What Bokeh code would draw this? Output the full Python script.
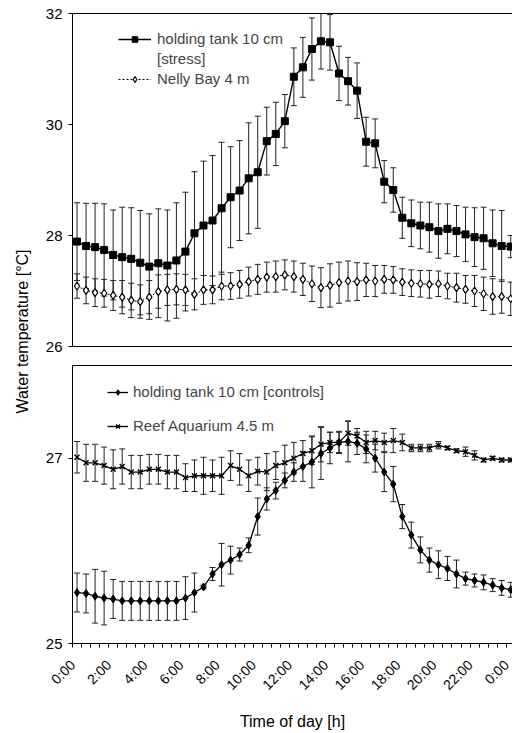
from math import pi
from bokeh.plotting import figure
from bokeh.models import (Range1d, FixedTicker, LinearAxis, Whisker, TeeHead,
                          ColumnDataSource, Legend, LegendItem, Label)
from bokeh.layouts import row, column
from bokeh.embed import file_html
from bokeh.resources import INLINE

# ---------------- data ----------------
hours = [0.0, 0.5, 1.0, 1.5, 2.0, 2.5, 3.0, 3.5, 4.0, 4.5, 5.0, 5.5, 6.0, 6.5,
         7.0, 7.5, 8.0, 8.5, 9.0, 9.5, 10.0, 10.5, 11.0, 11.5, 12.0, 12.5,
         13.0, 13.5, 14.0, 14.5, 15.0, 15.5, 16.0, 16.5, 17.0, 17.5, 18.0,
         18.5, 19.0, 19.5, 20.0, 20.5, 21.0, 21.5, 22.0, 22.5, 23.0, 23.5, 24.0]

stress_mean = [27.89, 27.81, 27.79, 27.74, 27.65, 27.61, 27.58, 27.51, 27.44, 27.50,
               27.46, 27.55, 27.71, 28.04, 28.18, 28.27, 28.49, 28.69, 28.81, 29.03,
               29.14, 29.70, 29.83, 30.06, 30.86, 31.03, 31.36, 31.50, 31.48, 30.92,
               30.78, 30.61, 29.69, 29.66, 28.97, 28.82, 28.32, 28.22, 28.18, 28.15,
               28.08, 28.12, 28.08, 28.02, 27.97, 27.95, 27.86, 27.81, 27.80]
stress_sd = [0.70, 0.77, 0.79, 0.83, 0.81, 0.90, 0.92, 0.94, 0.95, 0.98,
             1.00, 1.04, 1.07, 1.11, 1.16, 1.17, 1.19, 0.91, 0.90, 1.00,
             1.01, 0.61, 0.57, 0.48, 0.52, 0.54, 0.56, 0.50, 0.50, 0.49,
             0.43, 0.50, 0.44, 0.44, 0.38, 0.40, 0.37, 0.42, 0.42, 0.45,
             0.49, 0.45, 0.46, 0.49, 0.53, 0.56, 0.60, 0.64, 0.20]

nelly_mean = [27.09, 27.01, 26.97, 26.96, 26.92, 26.89, 26.83, 26.81, 26.89, 26.99,
              27.02, 27.03, 27.02, 26.94, 27.02, 27.02, 27.09, 27.09, 27.12, 27.17,
              27.21, 27.25, 27.26, 27.29, 27.26, 27.21, 27.13, 27.06, 27.10, 27.15,
              27.18, 27.17, 27.20, 27.18, 27.21, 27.20, 27.16, 27.14, 27.13, 27.12,
              27.13, 27.09, 27.06, 27.03, 27.00, 26.95, 26.90, 26.90, 26.86]
nelly_sd = [0.22, 0.24, 0.25, 0.25, 0.27, 0.30, 0.31, 0.30, 0.30, 0.30,
            0.28, 0.28, 0.28, 0.28, 0.26, 0.25, 0.25, 0.24, 0.25, 0.26,
            0.27, 0.27, 0.28, 0.27, 0.28, 0.29, 0.32, 0.36, 0.39, 0.37,
            0.36, 0.34, 0.30, 0.28, 0.25, 0.24, 0.24, 0.24, 0.24, 0.25,
            0.23, 0.23, 0.26, 0.25, 0.28, 0.30, 0.32, 0.30, 0.30]

control_mean = [25.55, 25.54, 25.51, 25.49, 25.48, 25.46, 25.46, 25.46, 25.46, 25.46,
                25.46, 25.46, 25.49, 25.55, 25.61, 25.75, 25.85, 25.90, 25.96, 26.06,
                26.37, 26.56, 26.65, 26.76, 26.85, 26.91, 26.96, 27.05, 27.11, 27.17,
                27.18, 27.16, 27.10, 27.00, 26.85, 26.72, 26.37, 26.17, 26.01, 25.90,
                25.85, 25.81, 25.75, 25.70, 25.68, 25.66, 25.63, 25.60, 25.58]
control_sd = [0.21, 0.21, 0.29, 0.29, 0.21, 0.21, 0.21, 0.21, 0.21, 0.21,
              0.21, 0.21, 0.23, 0.21, 0.02, 0.07, 0.23, 0.15, 0.07, 0.08,
              0.20, 0.12, 0.09, 0.08, 0.10, 0.16, 0.28, 0.28, 0.17, 0.12,
              0.22, 0.12, 0.15, 0.15, 0.21, 0.19, 0.13, 0.14, 0.14, 0.13,
              0.15, 0.13, 0.15, 0.07, 0.07, 0.08, 0.07, 0.08, 0.08]

reef_mean = [27.01, 26.95, 26.95, 26.92, 26.88, 26.91, 26.85, 26.85, 26.88, 26.88,
             26.85, 26.85, 26.79, 26.81, 26.81, 26.81, 26.81, 26.92, 26.88, 26.81,
             26.86, 26.85, 26.92, 26.95, 27.00, 27.05, 27.08, 27.15, 27.17, 27.17,
             27.27, 27.24, 27.17, 27.19, 27.17, 27.19, 27.17, 27.11, 27.11, 27.11,
             27.14, 27.11, 27.08, 27.07, 27.03, 26.98, 27.00, 26.98, 26.98]
reef_sd = [0.17, 0.20, 0.20, 0.20, 0.21, 0.19, 0.18, 0.18, 0.16, 0.16,
           0.18, 0.18, 0.15, 0.17, 0.20, 0.17, 0.20, 0.16, 0.17, 0.17,
           0.15, 0.20, 0.15, 0.19, 0.17, 0.14, 0.15, 0.19, 0.11, 0.11,
           0.13, 0.08, 0.12, 0.10, 0.10, 0.13, 0.09, 0.04, 0.04, 0.04,
           0.04, 0.02, 0.02, 0.05, 0.05, 0.02, 0.02, 0.02, 0.02]

tick_hours = [0, 2, 4, 6, 8, 10, 12, 14, 16, 18, 20, 22, 24]
tick_labels = ["0:00", "2:00", "4:00", "6:00", "8:00", "10:00", "12:00",
               "14:00", "16:00", "18:00", "20:00", "22:00", "0:00"]

FONT = "Liberation Sans"
LABEL_SHIFT = 0.24   # rotated labels sit slightly left of their category


def src(mean, sd):
    return ColumnDataSource(dict(x=hours, y=mean,
                                 lo=[m - s for m, s in zip(mean, sd)],
                                 hi=[m + s for m, s in zip(mean, sd)]))


def whisker(p, s):
    w = Whisker(base="x", lower="lo", upper="hi", source=s,
                line_color="#222222", line_width=1,
                upper_head=TeeHead(size=6, line_color="#222222", line_width=1),
                lower_head=TeeHead(size=6, line_color="#222222", line_width=1))
    p.add_layout(w)


def bare_axis(ax):
    ax.ticker = FixedTicker(ticks=[])
    ax.major_tick_out = 0
    ax.major_tick_in = 0
    ax.minor_tick_out = 0
    ax.minor_tick_in = 0
    ax.major_label_text_font_size = "0px"
    ax.major_label_standoff = 0
    ax.axis_line_color = "black"


def style_y(p, yticks):
    p.outline_line_color = None
    p.grid.visible = False
    ya = p.left[0]
    ya.ticker = FixedTicker(ticks=yticks)
    ya.major_tick_out = 4
    ya.major_tick_in = 0
    ya.minor_tick_out = 0
    ya.minor_tick_in = 0
    ya.major_label_standoff = 6
    ya.major_label_text_font = FONT
    ya.major_label_text_font_size = "15px"
    ya.major_label_text_color = "black"
    ya.axis_line_color = "black"
    ya.major_tick_line_color = "black"


xr = Range1d(-0.25, 24.1)

# ---------------- top panel ----------------
top = figure(width=472, height=356, x_range=xr, y_range=Range1d(26, 32),
             output_backend="svg", toolbar_location=None,
             min_border_left=32, min_border_right=0, min_border_top=13,
             min_border_bottom=10)
style_y(top, [26, 28, 30, 32])
bare_axis(top.below[0])
t_above = LinearAxis()
bare_axis(t_above)
top.add_layout(t_above, "above")

s_stress = src(stress_mean, stress_sd)
s_nelly = src(nelly_mean, nelly_sd)
whisker(top, s_nelly)
whisker(top, s_stress)
l_n = top.line("x", "y", source=s_nelly, line_color="black", line_width=1,
               line_dash="2 2")
m_n = top.scatter("x", "y", source=s_nelly, marker="diamond", size=8,
                  fill_color="white", line_color="black", line_width=1.2)
l_s = top.line("x", "y", source=s_stress, line_color="black", line_width=1.4)
m_s = top.scatter("x", "y", source=s_stress, marker="square", size=7,
                  fill_color="black", line_color="black")
dummy = top.line(x=[], y=[], line_alpha=0)

leg_top = Legend(items=[LegendItem(label="holding tank 10 cm", renderers=[l_s, m_s]),
                        LegendItem(label="[stress]", renderers=[dummy]),
                        LegendItem(label="Nelly Bay 4 m", renderers=[l_n, m_n])],
                 location=(46, 259), glyph_width=33, glyph_height=14,
                 label_height=14, spacing=3, padding=0, margin=0,
                 label_standoff=6, label_text_font=FONT,
                 label_text_font_size="15px", border_line_color=None,
                 background_fill_alpha=0)
top.add_layout(leg_top)

# ---------------- bottom panel ----------------
bot = figure(width=472, height=377, x_range=xr, y_range=Range1d(25, 28),
             output_backend="svg", toolbar_location=None,
             min_border_left=32, min_border_right=0, min_border_top=9,
             min_border_bottom=90)
style_y(bot, [25, 27])
b_above = LinearAxis()
bare_axis(b_above)
bot.add_layout(b_above, "above")
bx = bot.below[0]
label_pos = [h - LABEL_SHIFT for h in tick_hours]
bx.ticker = FixedTicker(ticks=label_pos,
                        minor_ticks=[-0.25 + 0.5 * k for k in range(50)])
bx.major_label_overrides = {p: lab for p, lab in zip(label_pos, tick_labels)}
bx.major_tick_out = 0
bx.major_tick_in = 0
bx.minor_tick_out = 4
bx.minor_tick_in = 0
bx.minor_tick_line_color = "black"
bx.axis_line_color = "black"
bx.major_label_orientation = pi / 4
bx.major_label_standoff = 15
bx.major_label_text_font = FONT
bx.major_label_text_font_size = "14px"
bx.major_label_text_color = "black"
bx.axis_label = "Time of day [h]"
bx.axis_label_text_font = FONT
bx.axis_label_text_font_size = "16px"
bx.axis_label_text_font_style = "normal"
bx.axis_label_text_color = "black"
bx.axis_label_standoff = 11

s_ctrl = src(control_mean, control_sd)
s_reef = src(reef_mean, reef_sd)
whisker(bot, s_reef)
whisker(bot, s_ctrl)
l_r = bot.line("x", "y", source=s_reef, line_color="black", line_width=1.3)
m_r = bot.scatter("x", "y", source=s_reef, marker="x", size=7,
                  line_color="black", line_width=1.4)
l_c = bot.line("x", "y", source=s_ctrl, line_color="black", line_width=1.3)
m_c = bot.scatter("x", "y", source=s_ctrl, marker="diamond", size=8,
                  fill_color="black", line_color="black")

leg_bot = Legend(items=[LegendItem(label="holding tank 10 cm [controls]", renderers=[l_c, m_c]),
                        LegendItem(label="Reef Aquarium 4.5 m", renderers=[l_r, m_r])],
                 location=(35, 209), glyph_width=21, glyph_height=14,
                 label_height=14, spacing=17, padding=0, margin=0,
                 label_standoff=5, label_text_font=FONT,
                 label_text_font_size="15px", border_line_color=None,
                 background_fill_alpha=0)
bot.add_layout(leg_bot)

# ---------------- shared y label ----------------
labfig = figure(width=40, height=733, x_range=Range1d(0, 40),
                y_range=Range1d(0, 733), output_backend="svg",
                toolbar_location=None, min_border=0,
                x_axis_location=None, y_axis_location=None)
labfig.outline_line_color = None
labfig.grid.visible = False
labfig.add_layout(Label(x=22, y=402, text="Water temperature [°C]", angle=pi / 2,
                        text_align="center", text_baseline="middle",
                        text_font=FONT, text_font_size="16px",
                        text_color="black"))

layout = row(labfig, column(top, bot))
open("out.html", "w").write(file_html(layout, INLINE))
